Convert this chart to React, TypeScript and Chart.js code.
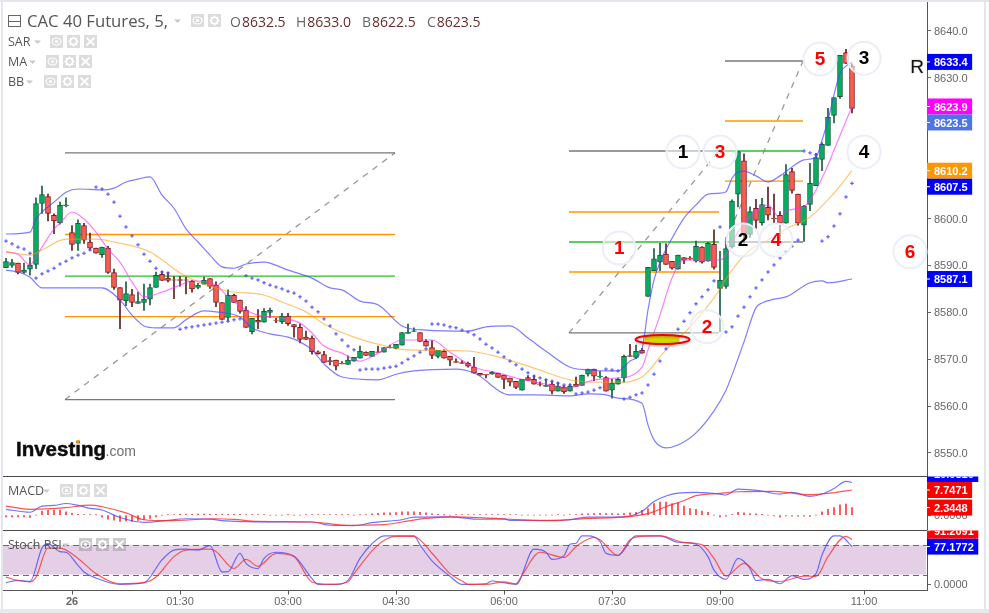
import React, { useEffect, useRef } from "react";
import { Chart, registerables } from "chart.js";

Chart.register(...registerables);

const candleOpen = [8589.5,8590,8590.5,8588.5,8589.2,8590.2,8603.2,8604.7,8600.7,8599.1,8602.7,8597,8594.7,8598.5,8595,8593.7,8592.3,8593.7,8588.5,8585.3,8582.5,8583.8,8581.9,8582.1,8582.8,8585.3,8588.1,8587.3,8586.95,8587,8586.95,8586.6,8585.3,8586,8587.2,8585.8,8582.1,8578.9,8583.6,8582.6,8580.4,8575.9,8578.3,8577.9,8580,8578.35,8578,8579.2,8577.4,8576.8,8574.7,8574.5,8571.6,8571,8569.7,8569.8,8569.1,8568.9,8569.6,8570.2,8571.5,8570.6,8571.55,8571.5,8572.4,8572.3,8573,8575.5,8575.95,8575.7,8573.8,8572.5,8570.6,8571.7,8570.6,8569.5,8569.3,8569.1,8568.3,8567,8566.75,8566.8,8567,8566.6,8566,8565.3,8563.4,8566.1,8565.7,8564.75,8564.2,8564.7,8563.2,8564,8563.2,8564.7,8564.4,8566.8,8567.9,8566.2,8566.1,8563.4,8564.7,8566,8570.8,8570.4,8571.9,8583.4,8588.9,8590.7,8592.4,8590.9,8589.2,8591.7,8591.55,8590.9,8593.9,8590.9,8594.5,8585.1,8585.5,8594,8605.2,8612.3,8596.6,8602.2,8599.1,8602.4,8600.05,8600.7,8599,8610,8605.2,8598.6,8603,8607,8612.6,8615.6,8622,8626,8635.4,8632.5];
const candleHigh = [8591.5,8591.3,8590.5,8590.5,8591.7,8604.4,8606.9,8605.2,8601,8603.5,8604.4,8598.5,8599.7,8599,8596.9,8593.7,8593.9,8594.1,8589.2,8585.3,8586.5,8584.9,8584.3,8586,8586,8588.6,8588.7,8588.5,8587.6,8587.6,8587.5,8586.8,8586.2,8587.5,8587.2,8586.5,8582.1,8584.8,8583.9,8582.6,8581.2,8578.7,8580.6,8580.8,8580.9,8578.7,8579.8,8579.8,8577.4,8577.5,8576,8575,8571.8,8571.7,8570.4,8569.8,8569.5,8570.7,8570.4,8572.8,8571.6,8571.7,8572.8,8572.5,8573,8573.2,8575.7,8577.5,8576.7,8575.7,8574.2,8574,8571.9,8572,8570.6,8570.1,8569.7,8569.4,8570.4,8567,8566.75,8567.4,8567,8566.6,8566,8565.3,8565.7,8566.5,8566.5,8565.2,8565.7,8565.4,8565,8564.4,8564.7,8566.2,8566.6,8567.9,8567.9,8567.4,8566.3,8565.7,8566,8570.9,8573.2,8573,8572.3,8589.6,8593.6,8594.7,8594.6,8590.9,8592.2,8591.7,8591.9,8595.2,8594,8594.9,8597.6,8593,8596,8604,8614.3,8613.8,8602.5,8604.1,8604.3,8606.7,8605.2,8601.5,8611.5,8610.7,8605.2,8602.8,8611.8,8613.9,8616.2,8623.5,8625.8,8634.8,8636.1,8633];
const candleLow = [8589.5,8589.6,8588.2,8588.3,8587.9,8589.3,8601.1,8599.5,8596.8,8598.8,8602.5,8593.2,8593.2,8594.7,8593.3,8592.6,8591.7,8588.3,8584.9,8576.5,8581.4,8581.2,8581.9,8580.4,8581.6,8585.3,8586.8,8586.5,8582.9,8585.6,8583.9,8584.3,8585,8586,8585.1,8581.2,8578.5,8578.2,8582.1,8579.8,8576.8,8575.4,8576.5,8577.9,8578.9,8577.8,8577.6,8577.2,8574.7,8573.5,8574.2,8571.1,8571.1,8569.3,8568.8,8567.7,8569,8568.9,8569.6,8570.2,8570.8,8570.6,8571.45,8571.5,8572.4,8572.2,8573,8575.5,8575.9,8573.8,8572.8,8570.1,8570.3,8570.2,8568.6,8569.3,8569.1,8568.3,8567,8566.6,8566,8566.8,8566.1,8563.7,8564.3,8563.7,8563.4,8565.5,8564.7,8564.3,8564.2,8562.6,8563.2,8562.7,8563.2,8564.2,8564.4,8566.4,8565.4,8566,8563.2,8561.7,8564.7,8565.1,8570.6,8570.1,8571.3,8583.4,8588.9,8588.9,8590.2,8589.2,8589.2,8590.4,8591.2,8590.7,8590.5,8590.9,8589.2,8575.9,8585.1,8593.7,8602.5,8594.7,8596,8597.9,8598.6,8599.7,8599,8595.4,8599,8605.4,8598.6,8595.1,8601.7,8607,8610.2,8615.6,8620.4,8625.6,8633.1,8622.5];
const candleClose = [8590.8,8590.6,8588.5,8589,8590,8603.2,8605.1,8601.1,8599.5,8602.8,8602.9,8594.5,8599,8595.4,8593.7,8592.6,8593.9,8588.5,8585.3,8582.6,8584,8582.1,8582.3,8582.8,8585.3,8587.9,8586.8,8586.8,8586.85,8586.8,8586.85,8585,8585.8,8586.8,8585.5,8582.1,8578.5,8583.6,8582.1,8580.2,8576.8,8578.7,8577.9,8580.2,8580.4,8578.25,8579.2,8577.6,8576.9,8574.2,8574.2,8571.6,8571.2,8569.3,8569.5,8568.5,8569,8569.8,8570.4,8571.7,8570.8,8571.7,8571.45,8572.5,8572.6,8573.2,8575.7,8575.8,8576.05,8573.8,8572.8,8570.8,8571.9,8570.2,8569.8,8569.3,8569.1,8568.5,8567,8566.6,8566.65,8567.2,8566.1,8565.7,8565.1,8564,8565.7,8565.5,8564.7,8564.65,8564.5,8563.2,8564.2,8563,8564.2,8564.2,8566.6,8567.9,8566.4,8566.4,8563.2,8564.9,8565.7,8570.6,8570.6,8571.7,8571.3,8589.6,8591.4,8592.2,8590.2,8589.4,8592.2,8591.1,8591.45,8594.1,8590.7,8594.7,8589.6,8586.8,8593.6,8603.7,8614.3,8596.8,8601.5,8599.6,8603,8600.7,8599.95,8599,8609.4,8606,8599,8602.6,8607.5,8613,8615.8,8621.6,8625.8,8634.8,8633.1,8623.5];

// [bar index, price] readings of the price overlays
const bbUpper = [[0,8596.7],[4,8597.1],[5,8599.9],[6,8601.4],[8,8603.5],[10,8605.6],[12,8606.3],[16,8606.1],[18,8606.5],[20,8607.8],[22,8608.4],[24,8608.9],[26,8605],[28,8602.2],[30,8597.8],[32,8595],[34,8592.2],[36,8589.7],[38,8589.4],[40,8590.3],[43,8590.7],[47,8589],[51,8587.3],[54,8585.2],[56,8584.8],[59,8582.4],[62,8581.6],[66,8577.1],[70,8576.2],[77,8576],[80,8576.9],[84,8577.1],[87,8574.5],[90,8571.7],[94,8568.3],[97,8567.7],[100,8567.5],[102,8567.5],[104,8569.6],[106,8572.2],[107,8580.5],[108,8586.9],[109,8590.7],[111,8595.8],[113,8600.1],[115,8602.9],[117,8605.2],[119,8605.4],[120,8605.7],[121,8608.6],[122,8609.9],[123,8610.1],[125,8609.1],[127,8607.8],[129,8609.1],[131,8611],[133,8612.5],[135,8613.1],[136,8616.7],[137,8621],[138,8626.4],[139,8631],[140,8632.5],[141,8633.4]];
const bbLower = [[0,8589],[2,8588.6],[4,8587.5],[6,8585.2],[8,8585.2],[16,8585.2],[19,8582.6],[21,8579.4],[23,8577.1],[25,8576.7],[28,8576.7],[30,8578.4],[33,8580.3],[35,8580.1],[39,8579],[41,8576.7],[44,8575.4],[47,8574.7],[49,8573.7],[51,8572],[53,8569],[56,8566.2],[62,8565.6],[65,8566.8],[68,8567.5],[75,8567.9],[78,8567.1],[84,8562.4],[88,8562.4],[94,8562.2],[97,8562.6],[100,8562.4],[102,8561.7],[106,8560.6],[107,8556],[108,8552.8],[110,8551.1],[112,8551.7],[115,8554.3],[118,8559],[120,8563.4],[121,8566.6],[123,8573.7],[125,8581],[126,8582],[128,8582.8],[130,8583.3],[134,8586.3],[136,8586.7],[137,8586.3],[141,8587.1]];
const maFast = [[0,8592.9],[2,8592.4],[4,8590.1],[5,8592],[6,8593.9],[8,8597.8],[9,8599],[11,8601.4],[13,8599.9],[15,8597.1],[17,8593.5],[19,8590.7],[21,8586.5],[23,8583.3],[26,8584.3],[29,8585.8],[31,8586.7],[35,8585.8],[37,8583.3],[40,8580.5],[42,8579.4],[46,8578.8],[49,8577.7],[51,8575.6],[53,8572.8],[56,8571.3],[59,8569.6],[62,8571.3],[66,8574.1],[71,8574.1],[74,8571.5],[78,8568.3],[82,8567.1],[85,8566],[91,8564.5],[94,8563.9],[98,8565.6],[102,8566],[106,8568.3],[107,8572],[109,8579.4],[111,8587.3],[113,8591.2],[116,8591.2],[119,8591.2],[120,8592.2],[121,8594.8],[122,8597.1],[125,8601.6],[127,8602.9],[129,8600.1],[130,8601.6],[133,8602.5],[135,8606.1],[137,8611.4],[138,8614.6],[141,8623.9]];
const maSlow = [[0,8592.9],[4,8592.2],[6,8593.3],[10,8595.6],[15,8595.6],[18,8595],[24,8592.9],[26,8591.2],[29,8588.4],[32,8586.5],[37,8584.5],[43,8583.7],[46,8582.2],[50,8580.1],[53,8577.5],[58,8574.7],[64,8572.6],[67,8572],[77,8571.75],[82,8570.5],[88,8568.1],[94,8565.6],[99,8565.1],[102,8565.1],[106,8566.2],[110,8572],[114,8576.9],[118,8583.1],[121,8589],[124,8593.3],[127,8595.4],[130,8597.8],[134,8600.3],[138,8605.4],[141,8610.2]];
const sarValues = [8595.2,8594.6,8593.9,8593.5,8592.6,8587.3,8588.2,8588.8,8589.4,8590.3,8590.9,8591.6,8592.2,8592.6,8593.3,8606.7,8606.3,8605.2,8603.5,8600.5,8598.2,8596.3,8594.4,8592.4,8590.9,8589.4,8588.6,8588.4,null,8576.4,8576.7,8576.9,8577.1,8577.3,8577.5,8577.7,8577.9,8578.1,8578.4,8578.6,8587.8,8587.3,8586.9,8586.3,8585.8,8585.4,8585,8584.5,8584.1,8583.3,8582.4,8581.1,8580.1,8578.6,8577.1,8575.4,8574.1,8572.8,8572,8567.7,8567.9,8567.9,8567.9,8568.1,8568.3,8568.5,8569.2,8570,8570.7,8571.5,8572.2,8577.5,8577.5,8577.3,8576.9,8576.7,8576.2,8575.8,8575.2,8574.3,8573.2,8572.4,8571.5,8570.5,8569.6,8568.8,8567.9,8567.1,8566.4,8566,8565.6,8565.3,8564.9,8564.5,8564.5,8562.6,8562.8,8563,8563.4,8563.9,8567.9,8567.7,8567.5,8561.5,8561.9,8562.4,8562.8,8564.5,8566.8,8569.6,8572.2,8574.3,8576.4,8578.1,8579.9,8581.8,8583.3,8584.8,8586.7,8598.2,8575.8,8576.9,8579.2,8581.1,8583.3,8585.2,8586.9,8588.6,8590.1,8591.6,8592.9,8594.1,8595.4,8614.4,8614,8613.6,8595.2,8596.1,8598.4,8601,8604.6,8607.5];

// Drawing tools: [start bar, end bar, price]
const fibGrey = [[9.83,64.83,8614],[9.83,64.83,8561.4],[93.83,118.83,8575.6],[119.83,132.83,8633.6],[119.83,132.83,8595]];
const fibOrange = [[9.83,64.83,8596.6],[9.83,64.83,8579.1],[93.83,118.83,8601.4],[93.83,118.83,8588.6],[119.83,132.83,8620.8],[119.83,132.83,8608]];
const fibGreen = [[9.83,64.83,8587.7],[93.83,118.83,8595],[119.83,132.83,8614.4]];
const fibTopExtra = [[93.83,121.83,8614.4]];
// Dashed diagonals: [start bar, start price, end bar, end price]
const fibDiagonals = [[9.83,8561.4,64.83,8614],[93.83,8575.6,118.83,8614.4],[119.83,8595,132.83,8633.6]];

const waveMarks = [
  { text: "1", color: "#ff0000", bar: 102.2, price: 8593.7 },
  { text: "1", color: "#000000", bar: 112.83, price: 8614.2 },
  { text: "3", color: "#ff0000", bar: 119, price: 8614.2 },
  { text: "2", color: "#000000", bar: 122.83, price: 8595.4 },
  { text: "4", color: "#ff0000", bar: 128.33, price: 8595.4 },
  { text: "5", color: "#ff0000", bar: 135.67, price: 8634 },
  { text: "3", color: "#000000", bar: 143, price: 8634.2 },
  { text: "4", color: "#000000", bar: 143, price: 8614.2 },
  { text: "6", color: "#ff0000", bar: 150.67, price: 8592.9 },
  { text: "2", color: "#ff0000", bar: 116.83, price: 8576.9 },
];
const ellipseAt = { bar: 109.42, price: 8574.2 };

const macdHist = [-0.5,-0.5,-0.5,-0.5,-0.7,0,1.3,1.5,1.6,1.6,1,0.6,0.3,0.2,0.15,0.1,-0.6,-1.2,-1.5,-1.9,-1.8,-1.9,-1.6,-1.4,-1,-0.5,0,0.2,0.2,0.25,0.3,0.3,0.35,0.35,0.3,0.3,0.3,0.25,0.25,0.25,0.2,0.2,0.2,0.2,0,0,0,0.1,0,0,0.15,0.15,0.15,0.15,0.15,0.15,0.15,0.15,0,0.1,0.2,0.4,0.6,0.7,0.7,0.8,1,1,1,0.9,0.7,0.4,0.3,0.1,0,0.15,0.15,0.15,0.15,0.15,0.15,0.15,0.15,0.15,0.15,0.15,0,0,0,0,0,0,0.2,0,0.2,0.2,0.4,0.4,0.5,0.6,0.5,0.5,0.4,0.6,0.7,0.9,1.5,2,3.6,4,4,3.6,3.9,2.8,2,1.8,1.3,0.9,0,-0.5,-0.3,0.2,0.9,0.7,0.5,0.4,0.3,0,-0.2,-0.6,-0.2,-0.3,-0.3,-0.3,-0.4,0,1,1.8,2.3,3.2,3.4,2.3448];
const macdLine = [[0,1.8],[4,0.9],[6,2.8],[8,3],[10,3.6],[12,3],[14,2.1],[16,1.6],[19,-0.7],[23,-2.2],[27,-1.6],[30,-1.1],[34,-1.2],[36,-1.7],[40,-2],[45,-2.1],[51,-2.1],[54,-3.1],[58,-3.2],[61,-2.3],[66,-1.4],[68,-0.6],[74,-0.5],[79,-1.25],[83,-1.15],[84,-1.6],[91,-1.6],[94,-1.35],[97,-0.6],[103,-0.5],[106,1.2],[108,4.2],[110,5.9],[112,6.8],[115,7],[119,6.5],[120,6.2],[122,8],[126,7.4],[129,6.5],[131,7],[134,5.8],[136,6.5],[138,8.2],[140,10.4],[141,10.08]];
const macdSignal = [[0,2.8],[4,1.8],[10,2.3],[14,3.1],[16,2.6],[20,0.7],[23,-1.4],[27,-1.7],[35,-1.1],[38,-1.3],[42,-1.9],[51,-2.1],[57,-3.1],[63,-2.9],[66,-2.1],[70,-1],[74,-0.5],[84,-1.25],[91,-1.7],[97,-1],[102,-0.7],[107,0.5],[110,2.6],[113,4.5],[115,6],[119,6.7],[122,7.2],[128,7.3],[134,6.3],[138,6.9],[141,7.7471]];
const stochK = [[0,3.5],[2,8.3],[4,6.2],[6,74],[7,83],[9,67],[10,65.6],[12,39],[13,25.5],[15,13],[19,0],[23,3.5],[26,50],[28,70],[30,71.8],[32,70],[34,79],[36,25.5],[37,26],[39,63.5],[40,43],[42,32.5],[43,53],[45,65.6],[48,58],[51,11.7],[52,0],[55,0],[57,8.3],[59,53],[61,83],[63,99],[68,99],[69,80.7],[71,48],[74,16.6],[76,0],[80,1.4],[81,7],[85,0],[88,71.8],[90,65.6],[91,51],[93,58.7],[94,82],[95,84],[96,99],[97,99],[99,87.6],[100,63.5],[102,59.4],[105,99],[109,99],[112,86],[115,82],[117,56.6],[118,29],[120,10.4],[122,53],[124,32.5],[125,8],[127,10.4],[129,1.4],[131,18],[133,10.4],[135,22],[136,60],[138,99],[139,99],[141,77.1772]];
const stochD = [[0,15],[2,8],[4,5],[5,15],[7,74],[9,74],[12,53],[15,22],[19,1.4],[23,3.5],[25,15],[28,56.6],[30,70],[34,71.8],[35,67],[38,32.5],[40,51],[42,37],[45,63.5],[48,56.6],[51,5],[54,0],[57,5],[58,22],[62,80.7],[65,98],[68,98],[71,63.5],[74,22],[76,7],[77,0],[80,0],[83,5],[85,1.4],[86,18.6],[89,65.6],[93,55],[95,77],[98,96],[99,91],[102,59],[104,91],[106,98],[109,99],[113,85.6],[116,81],[118,53],[120,17],[123,43],[126,11.7],[129,6],[133,17],[135,16.6],[137,56.6],[140,98],[141,91.2091]];
const stochBands = [80, 20];

const timeTickBars = [11, 29, 47, 65, 83, 101, 119, 143];
const timeTickLabels = ["26", "01:30", "03:00", "04:30", "06:00", "07:30", "09:00", "11:00"];

const priceFlags = [
  { value: 8633.4, text: "8633.4", color: "#0000ff" },
  { value: 8623.9, text: "8623.9", color: "#ff00ff" },
  { value: 8623.5, text: "8623.5", color: "#4f74e3" },
  { value: 8610.2, text: "8610.2", color: "#ff9800" },
  { value: 8607.5, text: "8607.5", color: "#0000ff" },
  { value: 8587.1, text: "8587.1", color: "#0000ff" },
];
const macdFlags = [
  { value: 2.3448, text: "2.3448", color: "#ff0000" },
  { value: 7.7471, text: "7.7471", color: "#ff0000" },
  { value: 10.0816, text: "10.0816", color: "#0000ff" },
];
const stochFlags = [
  { value: 77.1772, text: "77.1772", color: "#0000ff" },
  { value: 91.2091, text: "91.2091", color: "#ff0000" },
];

const headerTitle = "CAC 40 Futures, 5,";
const headerQuote = [
  ["O", "8632.5"],
  ["H", "8633.0"],
  ["B", "8622.5"],
  ["C", "8623.5"],
];

const pairs = (list: number[][]) => list.map(([x, y]) => ({ x, y }));
const bars = candleOpen.map((_, i) => i);
const isUp = (i: number) => candleClose[i] >= candleOpen[i];

const SANS = '"Liberation Sans"';
const HEAD = '"Open Sans"';
const PANE_LEFT = 3;
const PANE_RIGHT = 927;

function triangle(ctx: any, x: number, y: number, w: number) {
  ctx.fillStyle = "#c9c9c9";
  ctx.beginPath();
  ctx.moveTo(x, y);
  ctx.lineTo(x + w, y);
  ctx.lineTo(x + w / 2, y + 3.5);
  ctx.closePath();
  ctx.fill();
}

function iconBox(ctx: any, kind: string, x: number, y: number, s: number, box: string) {
  ctx.fillStyle = box;
  ctx.fillRect(x, y, s, s);
  const cx = x + s / 2;
  const cy = y + s / 2;
  ctx.strokeStyle = "#fff";
  ctx.fillStyle = "#fff";
  if (kind === "eye") {
    ctx.lineWidth = 1.2;
    ctx.beginPath();
    ctx.ellipse(cx, cy, s * 0.34, s * 0.27, 0, 0, Math.PI * 2);
    ctx.stroke();
    ctx.beginPath();
    ctx.arc(cx, cy, 1.6, 0, Math.PI * 2);
    ctx.fill();
  } else if (kind === "gear") {
    ctx.lineWidth = 1.6;
    for (let a = 0; a < 8; a++) {
      const t = (a * Math.PI) / 4;
      ctx.beginPath();
      ctx.moveTo(cx + Math.cos(t) * 2.5, cy + Math.sin(t) * 2.5);
      ctx.lineTo(cx + Math.cos(t) * s * 0.38, cy + Math.sin(t) * s * 0.38);
      ctx.stroke();
    }
    ctx.beginPath();
    ctx.arc(cx, cy, s * 0.25, 0, Math.PI * 2);
    ctx.lineWidth = 1.6;
    ctx.stroke();
  } else {
    ctx.lineWidth = 2;
    const r = s * 0.3;
    ctx.beginPath();
    ctx.moveTo(cx - r, cy - r);
    ctx.lineTo(cx + r, cy + r);
    ctx.moveTo(cx + r, cy - r);
    ctx.lineTo(cx - r, cy + r);
    ctx.stroke();
  }
}

function legendRow(ctx: any, label: string, y: number, triX: number, iconX: number[], box = "#dcdcdc", size = 13) {
  ctx.font = `12.5px ${HEAD}`;
  ctx.fillStyle = "#555";
  ctx.textAlign = "left";
  ctx.textBaseline = "middle";
  ctx.fillText(label, 8, y);
  triangle(ctx, triX, y - 1.5, 7);
  ["eye", "gear", "x"].forEach((k, i) => iconBox(ctx, k, iconX[i], y - 7, size, box));
}

function drawFlags(ctx: any, chart: any, scaleId: string, flags: any[], dir: number, top: number, bottom: number) {
  const scale = chart.scales[scaleId];
  const H = 16;
  let last: number | null = null;
  ctx.save();
  ctx.beginPath();
  ctx.rect(PANE_RIGHT, top, 62, bottom - top);
  ctx.clip();
  ctx.font = `bold 11px ${SANS}`;
  ctx.textAlign = "left";
  ctx.textBaseline = "middle";
  const placed = flags.map((f) => {
    let y = scale.getPixelForValue(f.value);
    if (last !== null) {
      if (dir > 0 && y < last + H) y = last + H;
      if (dir < 0 && y > last - H) y = last - H;
    }
    last = y;
    return { ...f, y };
  });
  placed.forEach((f) => {
    ctx.fillStyle = f.color;
    ctx.fillRect(PANE_RIGHT, f.y - H / 2, 11.5 + ctx.measureText(f.text).width, H);
    ctx.fillStyle = "#fff";
    ctx.fillRect(PANE_RIGHT, f.y - 0.5, 3, 1);
    ctx.fillText(f.text, 934, f.y + 1);
  });
  ctx.restore();
}

const chrome = {
  id: "chrome",
  beforeDraw(chart: any) {
    const { ctx, width, height } = chart;
    ctx.save();
    ctx.fillStyle = "#ffffff";
    ctx.fillRect(0, 0, width, height);
    ctx.fillStyle = "#e4e6ee";
    ctx.fillRect(0, 0, width, 2);
    ctx.fillRect(1, 0, 2, height);
    ctx.fillRect(984, 0, 2, height);
    ctx.fillStyle = "#e8e9ec";
    ctx.fillRect(0, 609, width, 4);
    ctx.restore();
  },
  beforeDatasetsDraw(chart: any) {
    const { ctx } = chart;
    const s = chart.scales.yStoch;
    const a = s.getPixelForValue(stochBands[0]);
    const b = s.getPixelForValue(stochBands[1]);
    ctx.save();
    ctx.fillStyle = "#e4cfe7";
    ctx.fillRect(PANE_LEFT, a, PANE_RIGHT - PANE_LEFT - 1, b - a);
    ctx.strokeStyle = "#6b6b6b";
    ctx.lineWidth = 1;
    ctx.setLineDash([6, 4]);
    [a, b].forEach((y) => {
      ctx.beginPath();
      ctx.moveTo(PANE_LEFT, Math.round(y) + 0.5);
      ctx.lineTo(PANE_RIGHT, Math.round(y) + 0.5);
      ctx.stroke();
    });
    ctx.restore();
  },
  afterDatasetsDraw(chart: any) {
    const { ctx } = chart;
    const sx = chart.scales.x;
    const sy = chart.scales.y;
    ctx.save();

    // highlighted ellipse
    const ex = sx.getPixelForValue(ellipseAt.bar);
    const ey = sy.getPixelForValue(ellipseAt.price);
    ctx.save();
    ctx.beginPath();
    ctx.ellipse(ex, ey, 27, 4.5, 0, 0, Math.PI * 2);
    ctx.clip();
    ctx.fillStyle = "#d9d900";
    ctx.fillRect(ex - 18, ey - 5, 35, 10);
    ctx.restore();
    ctx.save();
    ctx.shadowColor = "rgba(0,0,0,0.35)";
    ctx.shadowBlur = 3;
    ctx.shadowOffsetY = 1;
    ctx.strokeStyle = "#f00000";
    ctx.lineWidth = 2;
    ctx.beginPath();
    ctx.ellipse(ex, ey, 27, 4.5, 0, 0, Math.PI * 2);
    ctx.stroke();
    ctx.restore();

    // numbered circles
    waveMarks.forEach((m) => {
      const x = sx.getPixelForValue(m.bar);
      const y = sy.getPixelForValue(m.price);
      ctx.beginPath();
      ctx.arc(x, y, 16.5, 0, Math.PI * 2);
      ctx.fillStyle = "rgba(255,255,255,0.55)";
      ctx.fill();
      ctx.strokeStyle = "#e9eef8";
      ctx.lineWidth = 2;
      ctx.stroke();
      ctx.font = `bold 19px ${SANS}`;
      ctx.fillStyle = m.color;
      ctx.textAlign = "center";
      ctx.textBaseline = "middle";
      ctx.fillText(m.text, x, y + 1);
    });

    // pane separators
    ctx.strokeStyle = "#4a4a4a";
    ctx.lineWidth = 1;
    [chart.scales.yMacd.top, chart.scales.yStoch.top].forEach((y: number) => {
      ctx.beginPath();
      ctx.moveTo(PANE_LEFT, Math.round(y) + 0.5);
      ctx.lineTo(PANE_RIGHT, Math.round(y) + 0.5);
      ctx.stroke();
    });

    drawFlags(ctx, chart, "y", priceFlags, 1, 2, chart.scales.y.bottom);
    drawFlags(ctx, chart, "yMacd", macdFlags, -1, chart.scales.yMacd.top + 1, chart.scales.yMacd.bottom);
    drawFlags(ctx, chart, "yStoch", stochFlags, -1, chart.scales.yStoch.top + 1, chart.scales.yStoch.bottom);

    // header
    ctx.strokeStyle = "#666";
    ctx.lineWidth = 1;
    ctx.strokeRect(8.5, 15.5, 12, 11);
    ctx.beginPath();
    ctx.moveTo(8.5, 21.5);
    ctx.lineTo(20.5, 21.5);
    ctx.stroke();
    ctx.font = `16.7px ${HEAD}`;
    ctx.fillStyle = "#555";
    ctx.textAlign = "left";
    ctx.textBaseline = "alphabetic";
    ctx.fillText(headerTitle, 27, 26.5);
    triangle(ctx, 174, 19.5, 7);
    iconBox(ctx, "eye", 191, 14, 13, "#dcdcdc");
    iconBox(ctx, "gear", 208, 14, 13, "#dcdcdc");
    const quoteX = [230, 296, 362, 427];
    headerQuote.forEach(([k, v], i) => {
      ctx.font = `14px ${HEAD}`;
      ctx.fillStyle = "#666";
      ctx.fillText(k, quoteX[i], 26.5);
      ctx.fillStyle = "#6b2a2a";
      ctx.fillText(v, quoteX[i] + ctx.measureText(k).width + 1, 26.5);
    });

    legendRow(ctx, "SAR", 42, 34, [50, 67, 84]);
    legendRow(ctx, "MA", 62, 29, [46, 63, 79]);
    legendRow(ctx, "BB", 82, 26, [44, 61, 78]);
    legendRow(ctx, "MACD", 491, 43, [60, 77, 94]);
    legendRow(ctx, "Stoch RSI", 545, 62, [79, 96, 113], "rgba(150,150,150,0.5)");

    // logo
    ctx.textAlign = "left";
    ctx.textBaseline = "alphabetic";
    ctx.font = `bold 20.5px ${SANS}`;
    ctx.fillStyle = "#0d0d0d";
    ctx.strokeStyle = "#0d0d0d";
    ctx.lineWidth = 0.5;
    ctx.fillText("Investing", 16, 456);
    ctx.strokeText("Investing", 16, 456);
    const logoW = ctx.measureText("Investing").width;
    ctx.font = `14px ${SANS}`;
    ctx.fillStyle = "#6f6f6f";
    ctx.fillText(".com", 15.5 + logoW, 456);
    ctx.fillStyle = "#f09a1a";
    ctx.beginPath();
    ctx.arc(78, 441.5, 1.7, 0, Math.PI * 2);
    ctx.fill();

    // chart tool letter
    ctx.font = `19px ${SANS}`;
    ctx.fillStyle = "#111";
    ctx.textAlign = "center";
    ctx.textBaseline = "middle";
    ctx.save();
    ctx.shadowColor = "rgba(0,0,0,0.3)";
    ctx.shadowBlur = 2;
    ctx.fillText("R", 917, 68);
    ctx.restore();

    ctx.restore();
  },
};

const segment = (data: any[], color: string, extra: any = {}) => ({
  type: "line",
  data,
  borderColor: color,
  borderWidth: 1,
  pointRadius: 0,
  tension: 0,
  yAxisID: "y",
  order: 6,
  ...extra,
});

export default function App() {
  const ref = useRef<HTMLCanvasElement | null>(null);

  useEffect(() => {
    if (!ref.current) return;
    Chart.defaults.font.family = SANS;
    const overlay = (data: any[], color: string, yAxisID = "y", order = 2) => ({
      type: "line",
      data: pairs(data),
      borderColor: color,
      borderWidth: 1.2,
      pointRadius: 0,
      cubicInterpolationMode: "monotone",
      yAxisID,
      order,
    });
    const flatLines = (list: number[][], color: string, width = 1.3) =>
      list.map(([a, b, p]) =>
        segment(
          [
            { x: a, y: p },
            { x: b, y: p },
          ],
          color,
          { borderWidth: width }
        )
      );
    const datasets: any[] = [
      ...flatLines(fibOrange, "#ff9800"),
      ...flatLines(fibGreen, "#22c322"),
      ...flatLines(fibGrey, "#777777"),
      ...flatLines(fibTopExtra, "#777777"),
      ...fibDiagonals.map(([a, p, b, q]) =>
        segment(
          [
            { x: a, y: p },
            { x: b, y: q },
          ],
          "#999999",
          { borderDash: [6, 6], borderWidth: 1.3 }
        )
      ),
      {
        type: "bar",
        label: "wicks",
        data: bars.map((i) => ({ x: i, y: [candleLow[i], candleHigh[i]] })),
        backgroundColor: bars.map((i) => (isUp(i) ? "#1a5c3e" : "#5e1f1f")),
        barThickness: 1,
        grouped: false,
        yAxisID: "y",
        order: 5,
      },
      {
        type: "bar",
        label: "bodies",
        data: bars.map((i) => ({ x: i, y: [candleOpen[i], candleClose[i]] })),
        backgroundColor: bars.map((i) => (isUp(i) ? "#00b060" : "#ff5a50")),
        borderColor: bars.map((i) => (isUp(i) ? "#1a5c3e" : "#7a1c1c")),
        borderWidth: 1,
        borderSkipped: false,
        barThickness: 5,
        grouped: false,
        yAxisID: "y",
        order: 4,
      },
      overlay(bbUpper, "rgba(70,70,255,0.7)"),
      overlay(bbLower, "rgba(70,70,255,0.7)"),
      overlay(maSlow, "rgba(255,152,0,0.55)"),
      overlay(maFast, "rgba(255,40,255,0.6)"),
      {
        type: "line",
        data: bars.map((i) => ({ x: i, y: sarValues[i] })),
        showLine: false,
        pointStyle: "cross",
        pointRadius: 1.8,
        pointBorderWidth: 1,
        pointBorderColor: "#4a4aff",
        yAxisID: "y",
        order: 1,
      },
      {
        type: "bar",
        label: "histogram",
        data: bars.map((i) => ({ x: i, y: macdHist[i] })),
        backgroundColor: "#ff3a3a",
        barThickness: 1,
        grouped: false,
        yAxisID: "yMacd",
        order: 3,
      },
      overlay(macdLine, "rgba(60,60,255,0.72)", "yMacd"),
      overlay(macdSignal, "rgba(255,40,40,0.8)", "yMacd", 1),
      overlay(stochK, "rgba(60,60,255,0.72)", "yStoch"),
      overlay(stochD, "rgba(255,40,40,0.75)", "yStoch", 1),
    ];

    const tickFont = { size: 11 };
    const yTicks = { color: "#666", font: tickFont, padding: 3, labelOffset: 1 };
    const yBase = {
      type: "linear",
      position: "right",
      stack: "panes",
      grid: { drawOnChartArea: false, drawTicks: true, tickLength: 4, color: "#666" },
      border: { display: true, color: "#555" },
      afterFit: (s: any) => {
        s.width = 62;
        s.paddingTop = 0;
        s.paddingBottom = 0;
      },
    };
    const chart = new Chart(ref.current, {
      type: "bar",
      data: { datasets },
      plugins: [chrome],
      options: {
        responsive: false,
        animation: false,
        devicePixelRatio: 1,
        layout: { autoPadding: false, padding: { left: PANE_LEFT, top: 2, right: 0, bottom: 0 } },
        plugins: { legend: { display: false }, tooltip: { enabled: false } },
        scales: {
          x: {
            type: "linear",
            position: "bottom",
            min: -0.5,
            max: 153.5,
            offset: false,
            grid: { offset: false, drawOnChartArea: false, drawTicks: true, tickLength: 4, color: "#555" },
            border: { display: true, color: "#555" },
            afterBuildTicks: (s: any) => {
              s.ticks = timeTickBars.map((value) => ({ value }));
            },
            ticks: {
              autoSkip: false,
              maxRotation: 0,
              padding: 1,
              color: "#666",
              font: (c: any) => (c.tick && c.tick.value === timeTickBars[0] ? { size: 11, weight: "bold" } : tickFont),
              callback: (v: any) => timeTickLabels[timeTickBars.indexOf(Number(v))] ?? "",
            },
            afterFit: (s: any) => {
              s.height = 22.5;
              s.paddingLeft = 0;
              s.paddingRight = 0;
            },
          },
          y: {
            ...yBase,
            stackWeight: 473.5,
            min: 8545.2,
            max: 8646.18,
            afterBuildTicks: (s: any) => {
              s.ticks = [8550, 8560, 8570, 8580, 8590, 8600, 8610, 8620, 8630, 8640].map((value) => ({ value }));
            },
            ticks: { ...yTicks, callback: (v: any) => Number(v).toFixed(1) },
          },
          yMacd: {
            ...yBase,
            stackWeight: 54,
            min: -4.4,
            max: 12.2,
            afterBuildTicks: (s: any) => {
              s.ticks = [{ value: 0 }];
            },
            ticks: { ...yTicks, callback: (v: any) => Number(v).toFixed(4) },
          },
          yStoch: {
            ...yBase,
            stackWeight: 61,
            min: -12.4,
            max: 112,
            afterBuildTicks: (s: any) => {
              s.ticks = [{ value: 0 }];
            },
            ticks: { ...yTicks, callback: (v: any) => Number(v).toFixed(4) },
          },
        },
      },
    } as any);
    return () => chart.destroy();
  }, []);

  return (
    <div style={{ position: "absolute", left: 0, top: 0, width: 989, height: 613, background: "#fff" }}>
      <canvas ref={ref} width={989} height={613} style={{ display: "block" }} />
    </div>
  );
}
